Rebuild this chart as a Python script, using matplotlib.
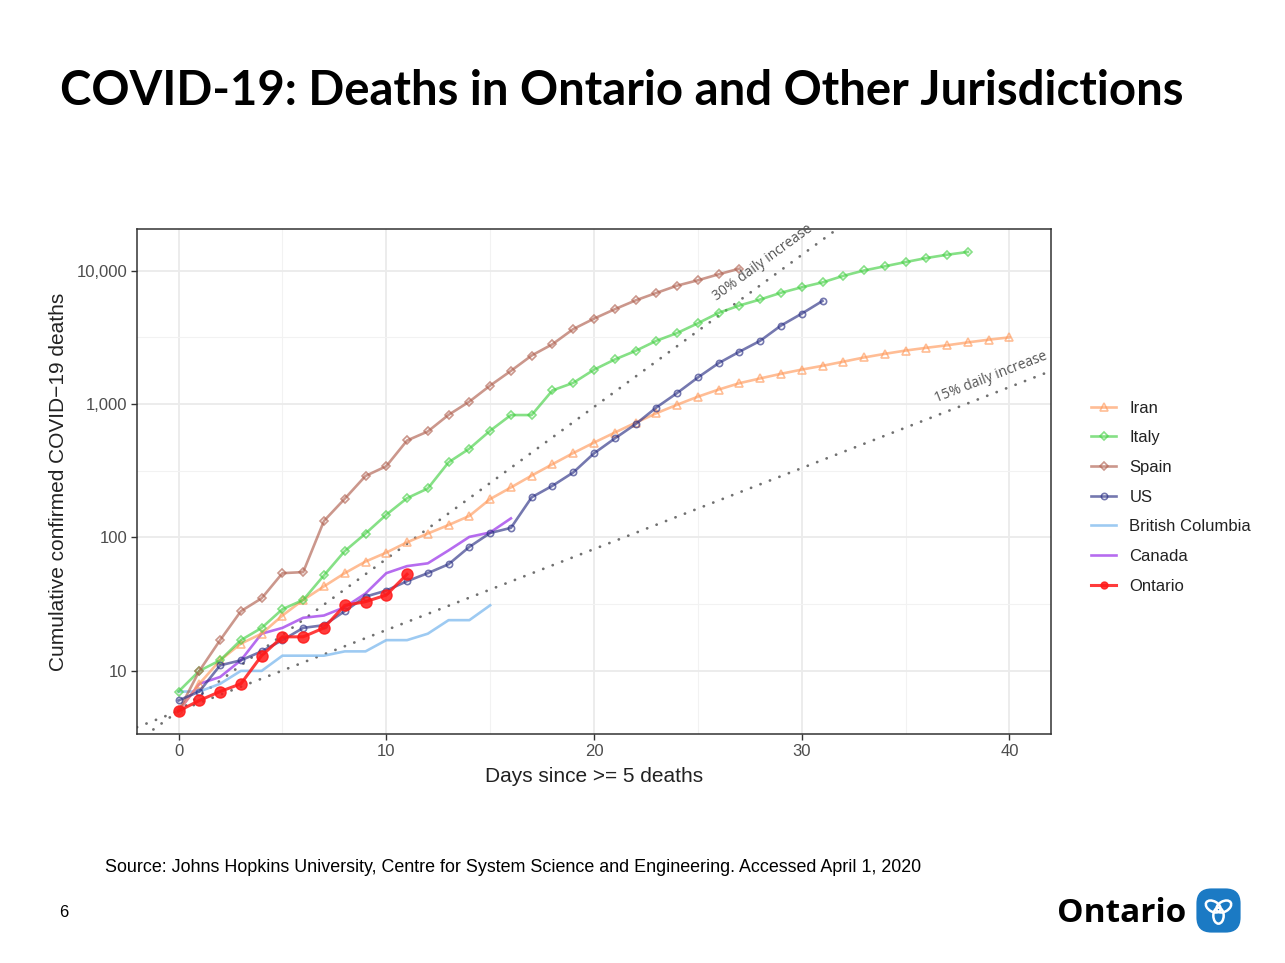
import numpy as np
import matplotlib
matplotlib.use("Agg")
import matplotlib.pyplot as plt
from matplotlib.patches import FancyBboxPatch, Ellipse
from matplotlib.ticker import FixedLocator, FuncFormatter, NullFormatter

# cumulative deaths, day 0 = first day with >= 5 deaths
iran = [5, 8, 12, 16, 19, 26, 34, 43, 54, 66, 77, 92, 107, 124, 145, 194, 237, 291,
        354, 429, 514, 611, 724, 853, 988, 1135, 1284, 1433, 1556, 1685, 1812, 1934,
        2077, 2234, 2378, 2517, 2640, 2757, 2898, 3036, 3160]
italy = [7, 10, 12, 17, 21, 29, 34, 52, 79, 107, 148, 197, 233, 366, 463, 631, 827,
         827, 1266, 1441, 1809, 2158, 2503, 2978, 3405, 4032, 4825, 5476, 6077, 6820,
         7503, 8165, 9134, 10023, 10779, 11591, 12428, 13155, 13800]
spain = [5, 10, 17, 28, 35, 54, 55, 133, 195, 289, 342, 533, 623, 830, 1043, 1375,
         1772, 2311, 2808, 3647, 4365, 5138, 5982, 6803, 7716, 8464, 9387, 10348]
us = [6, 7, 11, 12, 14, 17, 21, 22, 28, 36, 40, 47, 54, 63, 85, 108, 118, 200, 244,
      307, 427, 552, 706, 942, 1209, 1581, 2026, 2467, 2978, 3873, 4757, 5926]
british_columbia = [7, 7, 8, 10, 10, 13, 13, 13, 14, 14, 17, 17, 19, 24, 24, 31]
canada = [5, 8, 9, 12, 19, 21, 25, 26, 30, 38, 54, 61, 64, 80, 101, 109, 139]
ontario = [5, 6, 7, 8, 13, 18, 18, 21, 31, 33, 37, 53]

y_ticks = [10, 100, 1000, 10000]
x_ticks = [0, 10, 20, 30, 40]
growth_rates = [0.30, 0.15]
growth_labels = ["30% daily increase", "15% daily increase"]

plt.rcParams['font.family'] = ['Liberation Sans', 'DejaVu Sans']

fig = plt.figure(figsize=(12.85, 9.63), dpi=100)
ax = fig.add_axes([137 / 1285, 1 - 734 / 963, 914 / 1285, 505 / 963])

series = [
    ("Iran", iran, "#FF9A5C", "^", 1.9, 5.5),
    ("Italy", italy, "#45D045", "D", 1.9, 4.3),
    ("Spain", spain, "#B0604F", "D", 1.9, 4.3),
    ("US", us, "#2B3085", "o", 1.9, 4.5),
    ("British Columbia", british_columbia, "#7DB9EE", None, 1.9, 0),
    ("Canada", canada, "#9E3BEA", None, 1.9, 0),
    ("Ontario", ontario, "#FF1A1A", "o", 2.2, 8),
]

for name, vals, col, mk, lw, ms in series:
    days = np.arange(len(vals))
    if mk is None:
        ax.plot(days, vals, color=col, lw=lw, alpha=0.75, label=name, zorder=3)
    elif name == "Ontario":
        ax.plot(days, vals, color=col, lw=lw, marker=mk, ms=ms, alpha=0.85,
                mec=col, mfc=col, label=name, zorder=5)
    else:
        ax.plot(days, vals, color=col, lw=lw, marker=mk, ms=ms, alpha=0.65,
                mfc="none", mec=col, mew=1.2, label=name, zorder=4)

ax.set_yscale("log")
ax.set_xlim(-2, 42)
lo, hi = np.log10(5), np.log10(13800)
pad = (hi - lo) * 0.05
ax.set_ylim(10 ** (lo - pad), 10 ** (hi + pad))

# reference growth lines starting from 5 deaths at day 0
xx = np.linspace(-2, 42, 200)
for rate in growth_rates:
    ax.plot(xx, 5 * (1 + rate) ** xx, color="#707070", lw=2.0,
            ls=(0, (0.05, 3.6)), zorder=2, dash_capstyle="round")

# labels along the reference lines
fig.canvas.draw()
for rate, lab, d, off in [(0.30, growth_labels[0], 28.6, 7), (0.15, growth_labels[1], 39.4, 6)]:
    p1 = ax.transData.transform((d - 1, 5 * (1 + rate) ** (d - 1)))
    p2 = ax.transData.transform((d + 1, 5 * (1 + rate) ** (d + 1)))
    ang = np.degrees(np.arctan2(p2[1] - p1[1], p2[0] - p1[0]))
    ax.annotate(lab, (d, 5 * (1 + rate) ** d),
                xytext=(-off * np.sin(np.radians(ang)), off * np.cos(np.radians(ang))),
                textcoords="offset points", rotation=ang, rotation_mode="anchor",
                ha="center", va="bottom", color="#555555", fontsize=10,
                family=["Open Sans", "DejaVu Sans"], zorder=6)

# grid, ggplot theme_bw style
ax.yaxis.set_major_locator(FixedLocator(y_ticks))
ax.yaxis.set_minor_locator(FixedLocator([10 ** 0.5, 10 ** 1.5, 10 ** 2.5, 10 ** 3.5]))
ax.yaxis.set_minor_formatter(NullFormatter())
ax.yaxis.set_major_formatter(FuncFormatter(lambda v, p: f"{int(v):,}"))
ax.xaxis.set_major_locator(FixedLocator(x_ticks))
ax.xaxis.set_minor_locator(FixedLocator([5, 15, 25, 35]))
ax.grid(which="major", color="#EBEBEB", lw=1.3)
ax.grid(which="minor", color="#F2F2F2", lw=0.8)
ax.set_axisbelow(True)
ax.tick_params(which="minor", length=0)
ax.tick_params(which="major", length=4, width=1, color="#333333",
               labelcolor="#4D4D4D", labelsize=12, pad=3)
for s in ax.spines.values():
    s.set_color("#333333")
    s.set_linewidth(1.1)

ax.set_xlabel("Days since >= 5 deaths", fontsize=15, color="#222222", labelpad=6)
ax.set_ylabel("Cumulative confirmed COVID\u221219 deaths", fontsize=15, color="#222222", labelpad=6)

leg = ax.legend(loc="center left", bbox_to_anchor=(1076 / 1285, 1 - 497 / 963),
                bbox_transform=fig.transFigure, frameon=False, fontsize=12,
                handlelength=1.5, handletextpad=0.8, labelspacing=0.88,
                labelcolor="#222222")
for h in leg.legend_handles:
    if h.get_label() == "Ontario" or h.get_marker() == "o" and h.get_markerfacecolor() != "none":
        h.set_markersize(5)

fig.text(60 / 1285, 1 - 91 / 963, "COVID-19: Deaths in Ontario and Other Jurisdictions",
         fontsize=34, fontweight="bold", family=["Lato", "DejaVu Sans"],
         ha="left", va="center", color="black")
fig.text(105 / 1285, 1 - 867 / 963,
         "Source: Johns Hopkins University, Centre for System Science and Engineering. Accessed April 1, 2020",
         fontsize=12.9, ha="left", va="center", color="black")
fig.text(59 / 1285, 1 - 912 / 963, "6", fontsize=12, ha="left", va="center", color="black")
fig.text(1186 / 1285, 1 - 913 / 963, "Ontario", fontsize=24, fontweight="bold",
         family=["Open Sans", "DejaVu Sans"], ha="right", va="center", color="black")

# trillium logo
lax = fig.add_axes([1195 / 1285, 1 - 934 / 963, 47 / 1285, 47 / 963])
lax.set_xlim(0, 1)
lax.set_ylim(0, 1)
lax.axis("off")
lax.add_patch(FancyBboxPatch((0.03, 0.03), 0.94, 0.94, boxstyle="round,pad=0,rounding_size=0.32",
                             fc="#1B7AC4", ec="none"))
for a in [150, 30, 270]:
    r = np.radians(a)
    cx, cy = 0.5 + 0.13 * np.cos(r), 0.52 + 0.13 * np.sin(r)
    lax.add_patch(Ellipse((cx, cy), 0.34, 0.22, angle=a, fc="none", ec="white", lw=1.8))

fig.savefig("out.png", dpi=100)
